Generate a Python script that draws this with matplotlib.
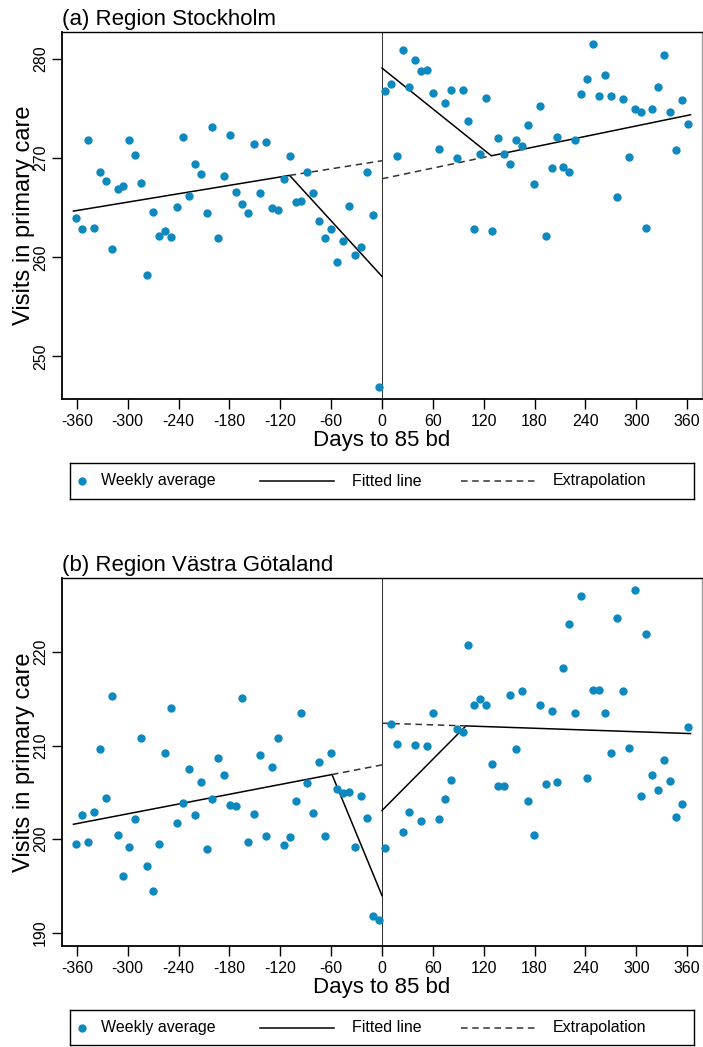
import numpy as np
import matplotlib
matplotlib.use('Agg')
import matplotlib.pyplot as plt

plt.rcParams['font.family'] = ['Liberation Sans', 'DejaVu Sans']

# weekly bins, days relative to the 85 bd cutoff
days_pre = np.arange(-361, 0, 7)
days_post = np.arange(4, 365, 7)

# (a) Stockholm, weekly average visits
sthlm_pre = [264.0, 262.9, 271.8, 263.0, 268.6, 267.7, 260.8, 266.9, 267.2, 271.8,
             270.3, 267.5, 258.2, 264.6, 262.1, 262.7, 262.0, 265.1, 272.1, 266.2,
             269.4, 268.4, 264.5, 273.1, 261.9, 268.2, 272.3, 266.6, 265.4, 264.5,
             271.4, 266.5, 271.6, 265.0, 264.8, 267.9, 270.2, 265.6, 265.7, 268.6,
             266.5, 263.7, 261.9, 262.9, 259.5, 261.6, 265.2, 260.2, 261.0, 268.6,
             264.3, 246.9]
sthlm_post = [276.8, 277.5, 270.2, 280.9, 277.2, 279.9, 278.8, 278.9, 276.6, 270.9,
              275.6, 276.9, 270.0, 276.9, 273.8, 262.9, 270.4, 276.1, 262.7, 272.0,
              270.4, 269.4, 271.8, 271.2, 273.3, 267.4, 275.3, 262.1, 269.0, 272.1,
              269.1, 268.6, 271.8, 276.5, 278.0, 281.5, 276.3, 278.4, 276.3, 266.1,
              276.0, 270.1, 275.0, 274.7, 263.0, 275.0, 277.2, 280.4, 274.7, 270.8,
              275.9, 273.4]

# (b) Västra Götaland, weekly average visits
vg_pre = [199.5, 202.6, 199.7, 202.9, 209.6, 204.4, 215.3, 200.4, 196.1, 199.2,
          202.1, 210.8, 197.1, 194.4, 199.5, 209.2, 214.0, 201.7, 203.9, 207.5,
          202.6, 206.1, 198.9, 204.3, 208.7, 206.9, 203.6, 203.5, 215.1, 199.7,
          202.7, 209.0, 200.3, 207.7, 210.8, 199.4, 200.2, 204.1, 213.5, 206.0,
          202.8, 208.2, 200.3, 209.2, 205.4, 204.9, 205.0, 199.2, 204.6, 202.3,
          191.8, 191.3]
vg_post = [199.1, 212.3, 210.2, 200.8, 202.9, 210.1, 201.9, 210.0, 213.5, 202.1,
           204.3, 206.3, 211.8, 211.5, 220.8, 214.3, 215.0, 214.4, 208.0, 205.7,
           205.7, 215.4, 209.6, 215.8, 204.1, 200.4, 214.3, 205.9, 213.7, 206.1,
           218.3, 223.0, 213.5, 226.0, 206.5, 215.9, 216.0, 213.5, 209.2, 223.7,
           215.8, 209.7, 226.7, 204.6, 221.9, 206.9, 205.3, 208.5, 206.2, 202.4,
           203.8, 212.0]

# fitted piecewise lines (break points) and extrapolations
sthlm_fit_pre = ([-364, -109, 0], [264.66, 268.26, 258.07])
sthlm_fit_post = ([0, 129, 364], [279.09, 270.24, 274.38])
sthlm_ext_pre = ([-109, 0], [268.26, 269.74])
sthlm_ext_post = ([0, 129], [267.92, 270.24])

vg_fit_pre = ([-364, -59, 0], [201.59, 206.91, 193.96])
vg_fit_post = ([0, 99, 364], [203.06, 212.11, 211.29])
vg_ext_pre = ([-59, 0], [206.91, 207.94])
vg_ext_post = ([0, 99], [212.40, 212.11])

xticks = np.arange(-360, 361, 60)
dot_color = '#0d89c0'
dot_size = 36
dash = (0, (4.3, 3.0))

W, H = 703, 1047
fig = plt.figure(figsize=(W / 100, H / 100), dpi=100)


def px_rect(x0, y0, x1, y1):
    return [x0 / W, 1 - y1 / H, (x1 - x0) / W, (y1 - y0) / H]


def panel(rect, title, pre, post, fit_pre, fit_post, ext_pre, ext_post, yticks, ylim):
    ax = fig.add_axes(px_rect(*rect))
    ax.axvline(0, color='#333333', lw=0.75, zorder=1)
    ax.scatter(days_pre, pre, s=dot_size, color=dot_color, linewidths=0, zorder=3)
    ax.scatter(days_post, post, s=dot_size, color=dot_color, linewidths=0, zorder=3)
    for seg in (fit_pre, fit_post):
        ax.plot(seg[0], seg[1], color='black', lw=1.1, zorder=2)
    for seg in (ext_pre, ext_post):
        ax.plot(seg[0], seg[1], color='#333333', lw=1.1, linestyle=dash, zorder=2)

    ax.set_xlim(-377.5, 377.5)
    ax.set_ylim(*ylim)
    ax.set_xticks(xticks)
    ax.set_xticklabels([str(t) for t in xticks])
    ax.set_yticks(yticks)
    ax.tick_params(direction='out', length=7, width=1, labelsize=11.5, pad=4)
    ax.tick_params(axis='y', pad=3)
    for lab in ax.get_yticklabels():
        lab.set_rotation(90)
        lab.set_va('center')

    ax.spines['left'].set_linewidth(1.3)
    ax.spines['bottom'].set_linewidth(1.3)
    ax.spines['top'].set_linewidth(1.0)
    ax.spines['right'].set_linewidth(1.0)
    ax.spines['right'].set_color('#a0a0a0')

    ax.set_xlabel('Days to 85 bd', fontsize=16)
    ax.xaxis.set_label_coords(0.5, -0.085)
    ax.set_ylabel('Visits in primary care', fontsize=17)
    ax.yaxis.set_label_coords(-0.042, 0.5)
    ax.annotate(title, xy=(0, 1), xycoords='axes fraction', xytext=(0, 5),
                textcoords='offset points', fontsize=16, va='baseline', ha='left')
    return ax


def legend_box(rect):
    lg = fig.add_axes(px_rect(*rect))
    w = rect[2] - rect[0]
    h = rect[3] - rect[1]
    lg.set_xlim(0, w)
    lg.set_ylim(0, h)
    lg.set_xticks([])
    lg.set_yticks([])
    for s in lg.spines.values():
        s.set_linewidth(1.0)
        s.set_color('black')
    yc = h / 2
    lg.scatter([11.5], [yc], s=dot_size, color=dot_color, linewidths=0)
    lg.text(31, yc, 'Weekly average', fontsize=11.5, va='center', ha='left')
    lg.plot([190, 264], [yc, yc], color='black', lw=1.1)
    lg.text(281.5, yc, 'Fitted line', fontsize=11.5, va='center', ha='left')
    lg.plot([391, 466], [yc, yc], color='#333333', lw=1.1, linestyle=dash)
    lg.text(482.5, yc, 'Extrapolation', fontsize=11.5, va='center', ha='left')


panel((62, 32.3, 702, 399), '(a) Region Stockholm', sthlm_pre, sthlm_post,
      sthlm_fit_pre, sthlm_fit_post, sthlm_ext_pre, sthlm_ext_post,
      [250, 260, 270, 280], (245.7, 282.7))
legend_box((70, 463, 694, 499))

panel((62, 578.3, 702, 945.7), '(b) Region Västra Götaland', vg_pre, vg_post,
      vg_fit_pre, vg_fit_post, vg_ext_pre, vg_ext_post,
      [190, 200, 210, 220], (188.6, 227.9))
legend_box((70, 1010, 694, 1045))

fig.savefig('out.png', dpi=100)
